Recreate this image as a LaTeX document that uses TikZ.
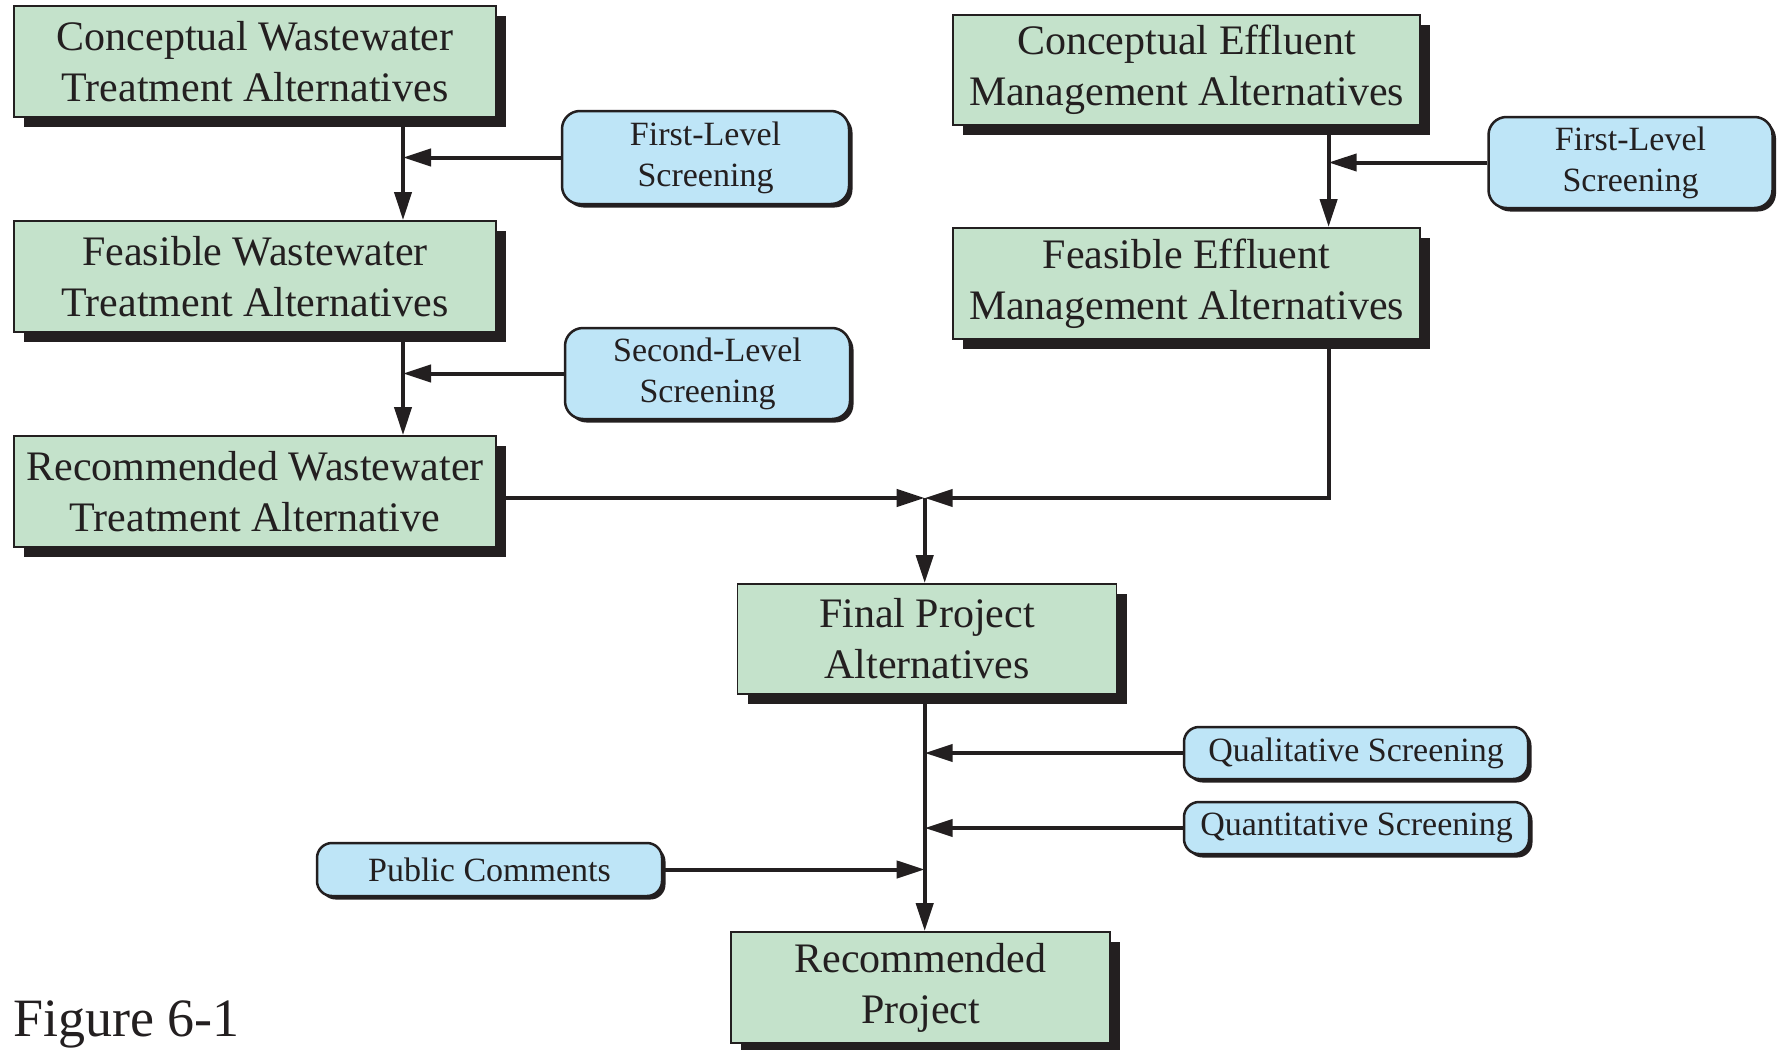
\documentclass[tikz,border=0pt]{standalone}
\usepackage{fontspec}
\setmainfont{Liberation Serif}
\usetikzlibrary{arrows.meta,shadows}
\definecolor{ink}{HTML}{231F20}
\definecolor{boxgreen}{HTML}{C4E2CB}
\definecolor{pillblue}{HTML}{BEE5F7}
\begin{document}
\begin{tikzpicture}[x=1pt,y=-1pt,
  gbox/.style={draw=ink, line width=1.8pt, fill=boxgreen, text=ink, align=center, inner sep=0pt,
    font=\fontsize{42}{51}\selectfont,
    drop shadow={shadow xshift=10pt, shadow yshift=-10pt, opacity=1, fill=ink}},
  pill/.style={draw=ink, line width=2.5pt, fill=pillblue, rounded corners=18pt, text=ink, align=center, inner sep=0pt,
    font=\fontsize{34}{41}\selectfont,
    drop shadow={shadow xshift=3.5pt, shadow yshift=-3.5pt, opacity=1, fill=ink}},
  conn/.style={draw=ink, line width=4pt},
  arr/.style={conn, -{Triangle[length=28pt,width=17pt]}}]
\path[use as bounding box, fill=white] (0,0) rectangle (1779,1049);

% green boxes
\node[gbox, minimum width=482pt, minimum height=111pt] (cww) at (255,61.5) {Conceptual Wastewater\\Treatment Alternatives};
\node[gbox, minimum width=482pt, minimum height=111pt] (fww) at (255,276.5) {Feasible Wastewater\\Treatment Alternatives};
\node[gbox, minimum width=482pt, minimum height=111pt] (rww) at (255,491.5) {Recommended Wastewater\\Treatment Alternative};
\node[gbox, minimum width=467pt, minimum height=110pt] (cem) at (1186.5,70) {Conceptual Effluent\\Management Alternatives};
\node[gbox, minimum width=467pt, minimum height=111pt] (fem) at (1186.5,283.5) {Feasible Effluent\\Management Alternatives};
\node[gbox, minimum width=379pt, minimum height=110pt] (fpa) at (927,639) {Final Project\\Alternatives};
\node[gbox, minimum width=379pt, minimum height=111pt] (rp) at (920.5,987.5) {Recommended\\Project};

% screening pills
\node[pill, minimum width=287pt, minimum height=93pt] (p1) at (705.5,157.5) {First-Level\\Screening};
\node[pill, minimum width=285pt, minimum height=91pt] (p2) at (707.5,373.5) {Second-Level\\Screening};
\node[pill, minimum width=284pt, minimum height=91pt] (p3) at (1630.5,162.5) {First-Level\\Screening};
\node[pill, rounded corners=15pt, minimum width=344pt, minimum height=52pt] (p4) at (1356,753) {Qualitative Screening};
\node[pill, rounded corners=15pt, minimum width=345pt, minimum height=52pt] (p5) at (1356.5,828) {Quantitative Screening};
\node[pill, rounded corners=15pt, minimum width=345pt, minimum height=53pt] (p6) at (489.5,869.5) {Public Comments};

% guide coordinates
\coordinate (xl) at (403,0);
\coordinate (xr) at (1328.6,0);
\coordinate (J) at (924.7,498);

% connectors
\draw[arr] (cww.south -| xl) -- (fww.north -| xl);
\draw[arr] (p1.west) -- (p1.west -| xl);
\draw[arr] (fww.south -| xl) -- (rww.north -| xl);
\draw[arr] (p2.west) -- (p2.west -| xl);
\draw[arr] (cem.south -| xr) -- (fem.north -| xr);
\draw[arr] (p3.west) -- (p3.west -| xr);
\draw[arr] (rww.east |- J) -- (J);
\draw[arr] (fem.south -| xr) |- (J);
\draw[arr] (J) -- (fpa.north -| J);
\draw[arr] (fpa.south -| J) -- (rp.north -| J);
\draw[arr] (p4.west) -- (p4.west -| J);
\draw[arr] (p5.west) -- (p5.west -| J);
\draw[arr] (p6.east) -- (p6.east -| J);

\node[anchor=base west, inner sep=0pt, text=ink, font=\fontsize{54}{60}\selectfont] (fig) at (13,1036) {Figure 6-1};
\end{tikzpicture}
\end{document}
